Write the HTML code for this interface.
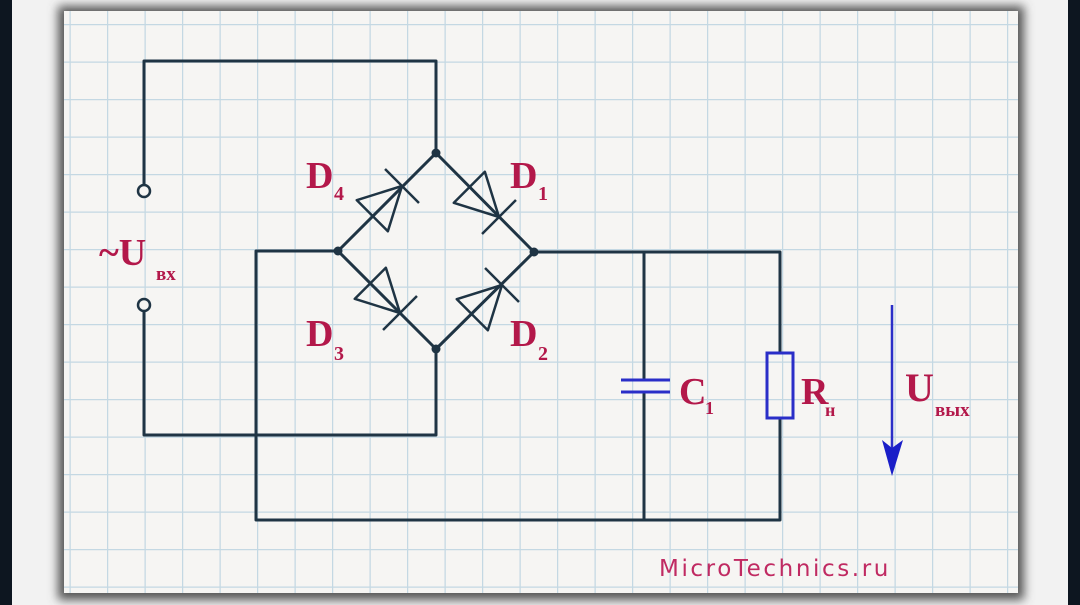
<!DOCTYPE html>
<html><head><meta charset="utf-8"><style>
html,body{margin:0;padding:0;width:1080px;height:605px;overflow:hidden;background:#0d1620}
</style></head><body>
<svg width="1080" height="605" viewBox="0 0 1080 605" xmlns="http://www.w3.org/2000/svg">
<defs>
<pattern id="g" x="32" y="24" width="37.5" height="37.5" patternUnits="userSpaceOnUse">
<path d="M0 0H37.5M0 0V37.5" stroke="#c4d8e3" stroke-width="2.5" fill="none"/>
</pattern>
<filter id="sh" x="-5%" y="-5%" width="110%" height="110%"><feGaussianBlur stdDeviation="5"/></filter>
</defs>
<rect x="0" y="0" width="1080" height="605" fill="#0d1620"/>
<rect x="12" y="0" width="1056" height="605" fill="#f2f2f2"/>
<rect x="58" y="6" width="966" height="594" fill="#555" filter="url(#sh)"/>
<rect x="64" y="11" width="954" height="582" fill="#f6f5f3"/>
<rect x="64" y="11" width="954" height="582" fill="url(#g)"/>
<g stroke="#1f3444" stroke-width="3" fill="none" stroke-linecap="round" stroke-linejoin="round">
<path d="M144 185V61H436V153"/>
<path d="M144 311V435H436V349"/>
<path d="M338 251H256V520H780V418"/>
<path d="M534 252H780V353"/>
<path d="M644 252V378M644 394V520"/>
<path d="M436 153L534 252L436 349L338 251Z"/>
</g>
<g fill="#f6f5f3" stroke="#1f3444" stroke-width="2.5">
<circle cx="144" cy="191" r="6"/>
<circle cx="144" cy="305" r="6"/>
</g>
<g fill="#1f3444">
<circle cx="436" cy="153" r="4.5"/><circle cx="534" cy="252" r="4.5"/>
<circle cx="436" cy="349" r="4.5"/><circle cx="338" cy="251" r="4.5"/>
</g>
<g stroke="#1f3444" stroke-width="2.5" fill="none" stroke-linejoin="round">
<g transform="translate(499,217) rotate(45)"><path d="M0 0L-42 -22L-42 22Z"/><path d="M0 -24V24"/></g>
<g transform="translate(402,186) rotate(-45)"><path d="M0 0L-42 -22L-42 22Z"/><path d="M0 -24V24"/></g>
<g transform="translate(400,313) rotate(45)"><path d="M0 0L-42 -22L-42 22Z"/><path d="M0 -24V24"/></g>
<g transform="translate(502,285) rotate(-45)"><path d="M0 0L-42 -22L-42 22Z"/><path d="M0 -24V24"/></g>
</g>
<g stroke="#2a2ec8" stroke-width="3" fill="none">
<path d="M621 380H670M621 392H670"/>
<rect x="767" y="353" width="26" height="65"/>
<path d="M892 305V450" stroke-width="2.5"/>
</g>
<path d="M882 440L892 476L903 440L892 448Z" fill="#1a1ec8"/>
<g fill="#b3184a" font-family="'Liberation Serif',serif" font-weight="bold">
<text x="306" y="188" font-size="38">D</text><text x="334" y="200" font-size="20">4</text>
<text x="510" y="188" font-size="38">D</text><text x="538" y="200" font-size="20">1</text>
<text x="306" y="346" font-size="38">D</text><text x="334" y="360" font-size="20">3</text>
<text x="510" y="346" font-size="38">D</text><text x="538" y="360" font-size="20">2</text>
<text x="679" y="404" font-size="38">C</text><text x="705" y="414" font-size="18">1</text>
<text x="801" y="404" font-size="38">R</text><text x="825" y="416" font-size="18">н</text>
<text x="905" y="401" font-size="40">U</text><text x="935" y="416" font-size="19">вых</text>
<text x="99" y="265" font-size="38">~U</text><text x="156" y="280" font-size="19">вх</text>
</g>
<text x="659" y="576" font-family="'DejaVu Sans','Liberation Sans',sans-serif" font-size="23" letter-spacing="2.6" fill="#c02a62">MicroTechnics.ru</text>
</svg>
</body></html>
